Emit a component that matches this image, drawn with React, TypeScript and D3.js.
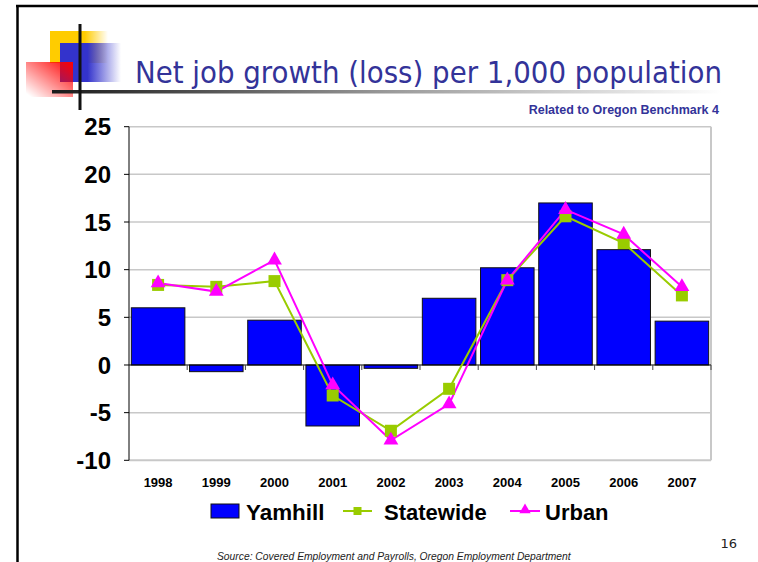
import React from "react";
import * as d3 from "d3";

const years = ["1998","1999","2000","2001","2002","2003","2004","2005","2006","2007"];
const yamhill = [6.0, -0.7, 4.7, -6.4, -0.35, 7.0, 10.2, 17.0, 12.1, 4.6];
const statewide = [8.4, 8.2, 8.8, -3.2, -6.9, -2.5, 8.9, 15.6, 12.8, 7.3];
const urban = [8.6, 7.7, 11.0, -2.1, -7.9, -4.1, 8.9, 16.3, 13.7, 8.2];
const yTicks = [25, 20, 15, 10, 5, 0, -5, -10];

const W = 758, H = 562;
const plotL = 129, plotR = 711, plotT = 126.7, plotB = 460.3;

export default function App() {
  const x = d3.scaleBand<string>().domain(years).range([plotL, plotR]).paddingInner(0.08).paddingOuter(0.04);
  const xc = d3.scaleBand<string>().domain(years).range([plotL, plotR]);
  const y = d3.scaleLinear().domain([-10, 25]).range([plotB, plotT]);
  const cx = (i: number) => (x(years[i]) as number) + x.bandwidth() / 2;
  const line = d3.line<number>().x((_, i) => cx(i)).y((v) => y(v));
  const tri = d3.symbol().type(d3.symbolTriangle).size(95)();
  const triL = d3.symbol().type(d3.symbolTriangle).size(55)();
  const arial = "'Liberation Sans', Arial, sans-serif";

  return (
    <svg width={W} height={H} style={{ position: "absolute", left: 0, top: 0, display: "block" }}>
      <defs>
        <linearGradient id="yg" x1="0" x2="1" y1="0" y2="0">
          <stop offset="0.6" stopColor="#FFCC00" />
          <stop offset="1" stopColor="#FFCC00" stopOpacity="0" />
        </linearGradient>
        <linearGradient id="bg" x1="0" x2="1" y1="0" y2="0">
          <stop offset="0.45" stopColor="#3333CC" />
          <stop offset="1" stopColor="#3333CC" stopOpacity="0" />
        </linearGradient>
        <linearGradient id="rg" x1="1" y1="0" x2="0" y2="1">
          <stop offset="0" stopColor="#FF0000" />
          <stop offset="0.95" stopColor="#FF0000" stopOpacity="0" />
        </linearGradient>
        <linearGradient id="hg" x1="0" x2="1" y1="0" y2="0">
          <stop offset="0" stopColor="#1a1a1a" />
          <stop offset="0.5" stopColor="#999999" />
          <stop offset="1" stopColor="#ffffff" />
        </linearGradient>
      </defs>
      <rect x={0} y={0} width={W} height={H} fill="#fff" />
      {/* slide frame */}
      <line x1={17.5} y1={5.5} x2={17.5} y2={H} stroke="#000" strokeWidth={2.5} />
      <line x1={16} y1={6} x2={W} y2={6} stroke="#000" strokeWidth={2.5} />

      {/* decoration */}
      <rect x={50} y={31} width={58} height={32} fill="url(#yg)" />
      <rect x={60} y={43} width={61} height={39} fill="url(#bg)" />
      <rect x={26} y={62} width={47} height={35} fill="url(#rg)" />
      <rect x={52} y={90} width={670} height={3.5} fill="url(#hg)" />
      <rect x={78.5} y={24} width={3} height={86} fill="#111" />

      {/* title */}
      <text x={135} y={83} textLength={587} lengthAdjust="spacingAndGlyphs" fontFamily="'DejaVu Sans Condensed', 'DejaVu Sans', sans-serif" fontStretch="condensed" fontSize={30.5} fill="#333399">
        Net job growth (loss) per 1,000 population
      </text>
      <text x={719} y={114} textAnchor="end" fontFamily={arial} fontWeight="bold" fontSize={12.5} fill="#333399">
        Related to Oregon Benchmark 4
      </text>

      {/* gridlines */}
      {yTicks.map((t) => (
        <line key={t} x1={plotL} x2={plotR} y1={y(t)} y2={y(t)} stroke={t === 0 ? "none" : "#C8C8C8"} strokeWidth={t === -10 ? 2 : 1.5} />
      ))}
      <line x1={plotR} x2={plotR} y1={plotT} y2={plotB} stroke="#C8C8C8" strokeWidth={2} />

      {/* bars */}
      {yamhill.map((v, i) => (
        <rect key={i} x={x(years[i])} y={y(Math.max(0, v))} width={x.bandwidth()} height={Math.abs(y(v) - y(0))}
          fill="#0000FF" stroke="#111" strokeWidth={1} />
      ))}

      {/* axes */}
      <line x1={plotL} x2={plotL} y1={plotT} y2={plotB} stroke="#000" strokeWidth={1} />
      {yTicks.map((t) => (
        <g key={t}>
          <line x1={plotL - 5} x2={plotL} y1={y(t)} y2={y(t)} stroke="#000" />
          <text x={111} y={y(t)} dy="0.36em" textAnchor="end" fontFamily={arial} fontWeight="bold" fontSize={24} fill="#000">{t}</text>
        </g>
      ))}
      <line x1={plotL} x2={plotR} y1={y(0)} y2={y(0)} stroke="#000" strokeWidth={1} />
      {years.map((yr) => (
        <line key={yr} x1={(xc(yr) as number) + xc.bandwidth()} x2={(xc(yr) as number) + xc.bandwidth()} y1={y(0)} y2={y(0) + 5} stroke="#444" />
      ))}
      {years.map((yr) => (
        <text key={yr} x={(xc(yr) as number) + xc.bandwidth() / 2} y={487} textAnchor="middle" fontFamily={arial} fontWeight="bold" fontSize={13} fill="#000">{yr}</text>
      ))}

      {/* lines */}
      <path d={line(statewide) || ""} fill="none" stroke="#99CC00" strokeWidth={2} />
      <path d={line(urban) || ""} fill="none" stroke="#FF00FF" strokeWidth={2} />
      {statewide.map((v, i) => (
        <rect key={i} x={cx(i) - 6} y={y(v) - 6} width={12} height={12} fill="#99CC00" />
      ))}
      {urban.map((v, i) => (
        <path key={i} d={tri || ""} transform={`translate(${cx(i)},${y(v)})`} fill="#FF00FF" />
      ))}

      {/* legend */}
      <rect x={211} y={504} width={28} height={14} fill="#0000FF" stroke="#111" strokeWidth={1} />
      <text x={246} y={520} fontFamily={arial} fontWeight="bold" fontSize={22.4} fill="#000">Yamhill</text>
      <line x1={343} x2={372} y1={511} y2={511} stroke="#99CC00" strokeWidth={2} />
      <rect x={353.5} y={507} width={8} height={8} fill="#99CC00" />
      <text x={384} y={520} fontFamily={arial} fontWeight="bold" fontSize={22} fill="#000">Statewide</text>
      <line x1={510} x2={540} y1={511} y2={511} stroke="#FF00FF" strokeWidth={2} />
      <path d={triL || ""} transform={`translate(525,510)`} fill="#FF00FF" />
      <text x={545} y={520} fontFamily={arial} fontWeight="bold" fontSize={22} fill="#000">Urban</text>

      <text x={737} y={548} textAnchor="end" fontFamily="'DejaVu Sans', sans-serif" fontSize={13} fill="#222">16</text>
      <text x={217} y={560} fontFamily={arial} fontStyle="italic" fontSize={10.3} fill="#222">
        Source:  Covered Employment and Payrolls, Oregon Employment Department
      </text>
    </svg>
  );
}
